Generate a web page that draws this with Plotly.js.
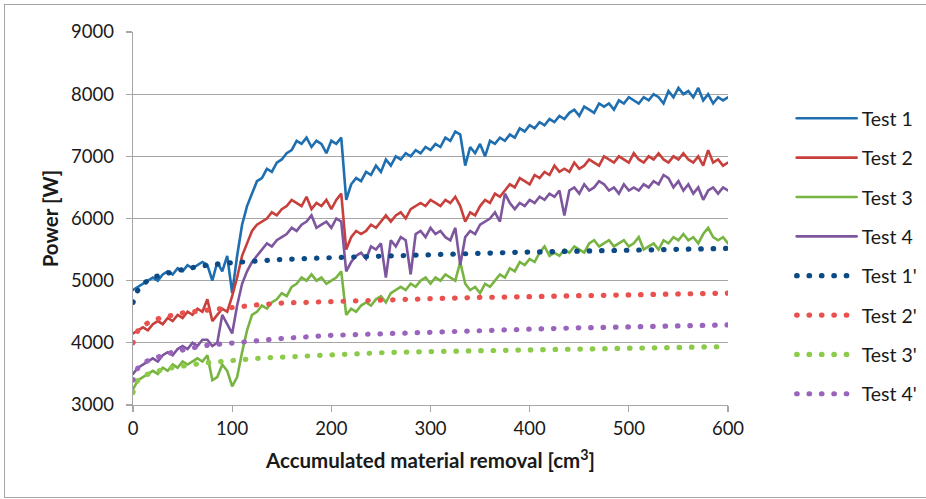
<!DOCTYPE html>
<html><head><meta charset="utf-8">
<script src="https://cdn.plot.ly/plotly-3.0.1.min.js"></script>
<style>
html,body{margin:0;padding:0;background:#fff;}
#wrap{position:relative;width:926px;height:499px;}
#chart{width:926px;height:499px;}
#frame{position:absolute;left:4px;top:4px;width:930px;height:492px;border:1px solid #a6a6a6;pointer-events:none;}
#chart path.js-line{stroke-linecap:round;}
</style></head>
<body><div id="wrap"><div id="chart"></div><div id="frame"></div></div>
<script>
// x positions for measured series (accumulated material removal, cm^3)
const xMeas = [];
for (let i = 0; i <= 600; i += 5) xMeas.push(i);

const test1 = [4850,4900,4950,5000,5050,5000,5100,5150,5100,5200,5150,5250,5200,5250,5300,5250,5000,5300,5150,5400,
4800,5400,5900,6200,6400,6600,6650,6800,6750,6900,6950,7050,7100,7250,7200,7300,7150,7250,7200,7050,
7250,7200,7300,6300,6550,6650,6600,6750,6700,6850,6750,6950,6850,7000,6950,7050,7000,7100,7050,7150,
7100,7200,7150,7300,7250,7400,7350,6850,7150,7050,7200,7000,7250,7200,7300,7250,7350,7300,7450,7400,
7500,7450,7550,7500,7600,7550,7650,7600,7700,7750,7650,7800,7750,7700,7850,7800,7850,7750,7900,7850,
7950,7900,7850,7950,7900,8000,7950,7850,8050,7950,8100,8000,8050,7950,8100,7900,8000,7850,7950,7900,7950];

const test2 = [4150,4200,4250,4200,4300,4350,4300,4400,4350,4450,4400,4500,4450,4550,4500,4700,4350,4450,4550,4500,
4750,5050,5400,5600,5800,5900,5950,6000,6100,6050,6150,6200,6300,6250,6200,6350,6150,6250,6200,6300,
6150,6300,6400,5500,5700,5800,5750,5800,5900,5850,5950,6050,5950,6050,6100,6000,6150,6200,6250,6200,
6300,6250,6200,6300,6250,6350,6200,5950,6100,6050,6200,6300,6250,6400,6350,6450,6550,6500,6650,6600,
6550,6700,6650,6750,6700,6850,6750,6800,6750,6900,6800,6850,6950,6900,6850,7000,6950,6900,7000,6950,
6900,7050,6950,6900,7000,6950,7050,6950,6900,7000,6950,7050,6950,6900,7000,6850,7100,6900,6950,6850,6900];

const test3 = [3250,3400,3450,3500,3550,3500,3600,3550,3650,3600,3700,3650,3700,3750,3700,3800,3400,3450,3650,3550,
3300,3450,3850,4200,4450,4500,4600,4550,4650,4700,4800,4750,4900,4950,5050,5000,5100,5000,5050,4950,
5000,5050,5150,4450,4550,4500,4600,4650,4600,4700,4750,4650,4800,4850,4900,4850,4950,4900,5000,5050,
4950,5050,5000,5100,5050,5000,5300,4950,4850,4900,4800,4950,4900,5000,5100,5050,5200,5150,5300,5250,
5350,5300,5450,5550,5400,5450,5400,5500,5450,5550,5500,5450,5600,5650,5550,5600,5650,5550,5600,5650,
5550,5600,5700,5500,5550,5600,5500,5650,5600,5700,5650,5750,5650,5700,5600,5750,5850,5700,5650,5700,5600];

const test4 = [3500,3600,3650,3700,3750,3700,3800,3850,3800,3900,3950,3900,4000,3950,4050,4050,3950,4000,4450,4300,
4150,4600,4950,5150,5300,5400,5500,5600,5550,5650,5700,5750,5850,5800,5900,5950,6050,5850,5900,5950,
5850,6000,5950,5150,5300,5400,5450,5350,5550,5500,5600,5050,5650,5550,5700,5650,5100,5750,5800,5700,
5850,5750,5800,5700,5650,5850,5250,5700,5800,5750,5900,5950,6000,6100,5950,6400,6250,6150,6250,6200,
6300,6250,6350,6300,6400,6350,6450,6050,6450,6500,6400,6550,6450,6500,6600,6550,6450,6500,6400,6550,
6450,6500,6450,6550,6500,6600,6550,6700,6650,6500,6600,6450,6550,6400,6500,6300,6450,6500,6400,6500,6450];

// model curves (dotted)
const xModel = [0,5,10,20,30,40,50,60,75,100,125,150,200,250,300,350,400,450,500,550,600];
const test1m = [4650,4850,4950,5050,5100,5150,5180,5210,5250,5290,5320,5340,5370,5400,5420,5440,5460,5480,5500,5510,5520];
const test2m = [4000,4200,4280,4360,4410,4450,4480,4500,4530,4570,4610,4640,4670,4690,4710,4730,4740,4760,4770,4790,4800];
const test3m = [3200,3400,3470,3530,3570,3600,3630,3650,3680,3720,3750,3770,3810,3840,3860,3870,3880,3900,3910,3930,3940];
const test4m = [3400,3600,3680,3750,3800,3850,3890,3920,3960,4000,4040,4070,4120,4150,4170,4200,4220,4240,4260,4280,4290];

const names = ["Test 1","Test 2","Test 3","Test 4","Test 1'","Test 2'","Test 3'","Test 4'"];
const colors = ["#1F6EB0","#C8403C","#78B442","#7D569E","#0B4A85","#E8514E","#8CCB4A","#9A64BD"];

const ys = [test1,test2,test3,test4,test1m,test2m,test3m,test4m];
const traces = ys.map((y,i) => {
  const dotted = i >= 4;
  return {
    type: 'scatter', mode: 'lines',
    x: dotted ? xModel : xMeas, y: y,
    name: names[i], legendgroup: 'g'+i,
    line: dotted ? {color: colors[i], width: 5.2, dash: '0.5px,11.9px'} : {color: colors[i], width: 2.6},
    hoverinfo: 'skip'
  };
});

const fontFam = 'Lato, "Open Sans", sans-serif';
const txt = '#1a1a1a';
const layout = {
  width: 926, height: 499,
  margin: {l: 133, r: 198, t: 32, b: 94, autoexpand: false},
  paper_bgcolor: 'rgba(0,0,0,0)', plot_bgcolor: '#fff',
  font: {family: fontFam, size: 18, color: txt},
  showlegend: true,
  legend: {x: 1.107, xanchor: 'left', y: 0.82, yanchor: 'top',
           traceorder: 'grouped', tracegroupgap: 11, itemwidth: 60,
           font: {family: fontFam, size: 19.5, color: txt}, bgcolor: 'rgba(0,0,0,0)'},
  xaxis: {range: [0, 600], dtick: 100, tick0: 0, showgrid: false, zeroline: false,
          showline: true, linecolor: '#a6a6a6', linewidth: 1.3,
          ticks: 'outside', ticklen: 6, tickcolor: '#a6a6a6', tickwidth: 1.3, ticklabelstandoff: 0,
          tickfont: {family: fontFam, size: 18.5, color: txt},
          title: {text: '<b>Accumulated material removal [cm<sup>3</sup>]</b>', standoff: 16,
                  font: {family: fontFam, size: 20.5, color: txt}}},
  yaxis: {range: [3000, 9000], dtick: 1000, tick0: 3000, showgrid: true, gridcolor: '#a6a6a6', gridwidth: 1.3,
          zeroline: false, showline: true, linecolor: '#a6a6a6', linewidth: 1.3,
          ticks: 'outside', ticklen: 6, tickcolor: '#a6a6a6', tickwidth: 1.3, ticklabelstandoff: 8,
          tickfont: {family: fontFam, size: 18.5, color: txt},
          title: {text: '<b>Power [W]</b>', standoff: 7,
                  font: {family: fontFam, size: 20.5, color: txt}}}
};

Plotly.newPlot('chart', traces, layout, {displayModeBar: false, staticPlot: true});
</script>
</body></html>
